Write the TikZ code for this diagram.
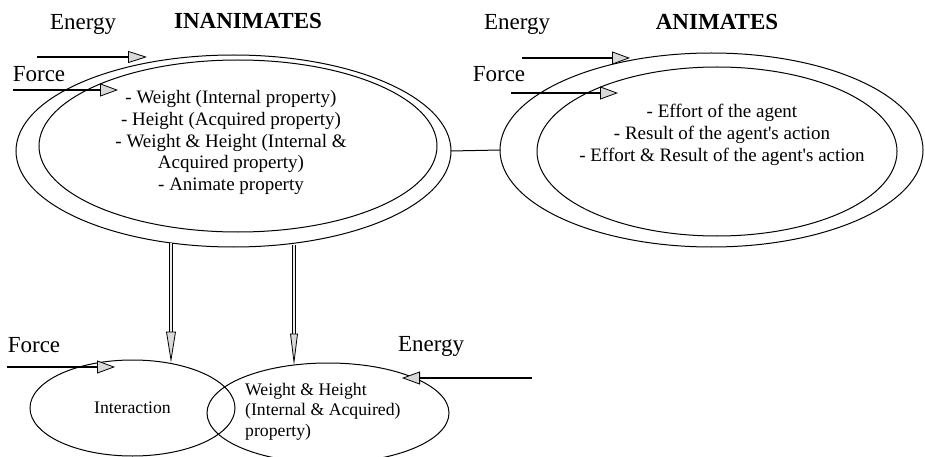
\documentclass[tikz,border=0pt]{standalone}
\usepackage{fontspec}
\setmainfont{Liberation Serif}
\usetikzlibrary{arrows.meta,shapes.geometric}
\definecolor{tipgray}{gray}{0.85}
\tikzset{
 ell/.style={draw, ellipse, line width=1pt, inner sep=0pt, outer sep=0pt},
 lbl/.style={font=\fontsize{23}{26}\selectfont, inner sep=0pt},
 ttl/.style={font=\fontsize{23}{26}\selectfont\bfseries, inner sep=0pt},
 body/.style={font=\fontsize{19}{21.8}\selectfont, align=center, inner sep=0pt},
 small/.style={font=\fontsize{17.7}{20.7}\selectfont, inner sep=0pt},
 harrow/.style={line width=1.5pt, -{Triangle[length=18pt,width=13pt,fill=tipgray,line width=0.8pt]}},
 harrowthin/.style={line width=1.1pt, -{Triangle[length=19pt,width=12pt,fill=tipgray,line width=0.8pt]}},
 dblwide/.style={double=gray!15, double distance=2.2pt, line width=1.1pt},
 dblnarrow/.style={double=gray!15, double distance=1.6pt, line width=0.9pt},
 vtip/.style={draw, line width=0.8pt, fill=tipgray},
}
\begin{document}
\begin{tikzpicture}[x=1pt,y=-1pt]
\useasboundingbox (0,0) rectangle (925,457);
% ellipses
\node[ell, minimum width=435pt, minimum height=192pt] (outL) at (233.5,151) {};
\node[ell, minimum width=398pt, minimum height=172pt] (inL) at (238,146) {};
\node[ell, minimum width=423pt, minimum height=194pt] (outR) at (711.5,150) {};
\node[ell, minimum width=360pt, minimum height=169pt] (inR) at (717,151.5) {};
\node[ell, minimum width=205pt, minimum height=96pt] (botL) at (132.5,408) {};
\node[ell, minimum width=242pt, minimum height=100pt] (botR) at (328,413) {};
% link between the two big ellipses
\draw[line width=1pt] (outL.east) -- (outR.west);
% labels
\node[lbl] (enL) at (83,24) {Energy};
\node[ttl] (inan) at (248,21.5) {INANIMATES};
\node[lbl] (foL) at (39,74.5) {Force};
\node[lbl] (enR) at (517,24) {Energy};
\node[ttl] (anim) at (717,22) {ANIMATES};
\node[lbl] (foR) at (499,74.5) {Force};
\node[lbl] (foB) at (34,345.5) {Force};
\node[lbl] (enB) at (431,346.5) {Energy};
% body texts
\node[body] (txtL) at (231,142.5) {- Weight (Internal property)\\- Height (Acquired property)\\- Weight \& Height (Internal \&\\Acquired property)\\- Animate property};
\node[body] (txtR) at (722,135) {- Effort of the agent\\- Result of the agent\textquotesingle s action\\- Effort \& Result of the agent\textquotesingle s action};
\node[small] (txtI) at (132.5,408) {Interaction};
\node[small, align=left, anchor=west] (txtW) at (245,411.5) {Weight \& Height\\(Internal \& Acquired)\\property)};
% free ends of the horizontal arrows
\coordinate (a1s) at (37,57);   \coordinate (a1e) at (147,57);
\coordinate (a2s) at (13,90);   \coordinate (a2e) at (118,90);
\coordinate (a3s) at (522,58);  \coordinate (a3e) at (630,58);
\coordinate (a4s) at (511,93);  \coordinate (a4e) at (618,93);
\coordinate (a5s) at (7,367);   \coordinate (a5e) at (115,367);
\coordinate (a6s) at (532,378); \coordinate (a6e) at (402,378);
\draw[harrowthin] (a1s) -- (a1e);
\draw[harrow] (a2s) -- (a2e);
\draw[harrow] (a3s) -- (a3e);
\draw[harrow] (a4s) -- (a4e);
\draw[harrow] (a5s) -- (a5e);
\draw[harrow] (a6s) -- (a6e);
% vertical double arrows
\coordinate (v1s) at (171,243); \coordinate (v1b) at (171,333); \coordinate (v1t) at (171,360);
\coordinate (v2s) at (294,245); \coordinate (v2b) at (294,335); \coordinate (v2t) at (294,362);
\draw[dblwide] (v1s) -- (v1b);
\draw[vtip] (v1t) -- ++(-4.5,-28) -- ++(9,0) -- cycle;
\draw[dblnarrow] (v2s) -- (v2b);
\draw[vtip] (v2t) -- ++(-3.5,-28) -- ++(7,0) -- cycle;
\end{tikzpicture}
\end{document}
